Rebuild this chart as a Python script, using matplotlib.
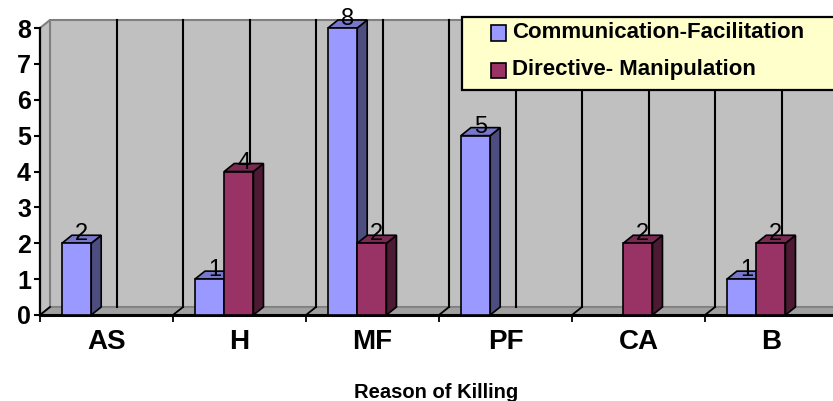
import matplotlib
matplotlib.use("Agg")
import matplotlib.pyplot as plt
from matplotlib.patches import Polygon, Rectangle

plt.rcParams['font.family'] = ['Liberation Sans', 'DejaVu Sans']

categories = ["AS", "H", "MF", "PF", "CA", "B"]
series_names = ["Communication-Facilitation", "Directive- Manipulation"]
comm_fac = [2, 1, 8, 5, 0, 1]
dir_man = [0, 4, 2, 0, 2, 2]
y_ticks = [0, 1, 2, 3, 4, 5, 6, 7, 8]
x_title = "Reason of Killing"

front_cols = ["#9999FF", "#993366"]
side_cols = ["#4D4D80", "#4D1A33"]
top_cols = ["#7777CC", "#7A2952"]

W, H = 833, 401
X0, Y0 = 40, 315          # pixel location of data origin
PX_X, PX_Y = 133.0, 35.875  # pixels per data unit
fig = plt.figure(figsize=(W / 100, H / 100), dpi=100)
ax = fig.add_axes([X0 / W, (H - Y0) / H, (W - X0) / W, Y0 / H])
XMAX = (W - X0) / PX_X
YMAX = Y0 / PX_Y
ax.set_xlim(0, XMAX)
ax.set_ylim(0, YMAX)

dx, dy = 10 / PX_X, 8 / PX_Y
ymax_wall = max(y_ticks)
ncat = len(categories)

# back wall
ax.add_patch(Rectangle((dx, dy), ncat + 1, ymax_wall, facecolor="#C0C0C0",
                       edgecolor="#808080", lw=1.5, zorder=0.2))
# left side wall
ax.add_patch(Polygon([(0, 0), (0, ymax_wall), (dx, ymax_wall + dy), (dx, dy)],
                     closed=True, facecolor="#C0C0C0", edgecolor="#808080",
                     lw=1.5, zorder=0.3, clip_on=False))
# floor
ax.add_patch(Polygon([(0, 0), (ncat + 1, 0), (ncat + 1 + dx, dy), (dx, dy)],
                     closed=True, facecolor="#A0A0A0", edgecolor="#808080",
                     lw=1.2, zorder=0.4))
# wall vertical gridlines
for k in range(1, 2 * ncat + 1):
    ax.plot([dx + 0.5 * k] * 2, [dy, ymax_wall + dy], color="black", lw=1.5, zorder=0.6)
# depth ticks on floor at category boundaries
for k in range(ncat + 1):
    ax.plot([k + dx, k, k], [dy, 0, -0.17], color="black", lw=1.3, zorder=2.6, clip_on=False)

# bars
bw, off = 0.22, 0.165
for s, vals in enumerate([comm_fac, dir_man]):
    for i, v in enumerate(vals):
        if v == 0:
            continue
        x0 = i + off + s * bw
        x1 = x0 + bw
        z = 3 + s
        ax.add_patch(Polygon([(x1, 0), (x1 + dx, dy), (x1 + dx, v + dy), (x1, v)], closed=True,
                             facecolor=side_cols[s], edgecolor="black", lw=1.2, zorder=z))
        ax.add_patch(Polygon([(x0, v), (x1, v), (x1 + dx, v + dy), (x0 + dx, v + dy)], closed=True,
                             facecolor=top_cols[s], edgecolor="black", lw=1.2, zorder=z))
        ax.add_patch(Rectangle((x0, 0), bw, v, facecolor=front_cols[s],
                               edgecolor="black", lw=1.2, zorder=z))
        ax.text(x0 + bw / 2 + dx / 2, v + 0.08, str(v), ha="center", va="baseline",
                fontsize=17, color="black", zorder=6)

# axes styling
for side in ["top", "right"]:
    ax.spines[side].set_visible(False)
ax.spines["left"].set_bounds(0, ymax_wall)
ax.spines["left"].set_linewidth(1.6)
ax.spines["bottom"].set_linewidth(2.2)
ax.spines["left"].set_zorder(2.7)
ax.spines["bottom"].set_zorder(2.7)
ax.set_yticks(y_ticks)
ax.set_yticklabels([str(t) for t in y_ticks], fontsize=18, fontweight="bold")
ax.tick_params(axis="y", length=4.5, width=1.5, pad=2)
ax.set_xticks([i + 0.5 for i in range(ncat)])
ax.set_xticklabels(categories, fontsize=20, fontweight="bold")
ax.tick_params(axis="x", length=0, pad=10)
ax.set_xlabel(x_title, fontsize=14.5, fontweight="bold", va="center")
ax.xaxis.set_label_coords(0.5, -(392 - Y0) / Y0)

# legend (drawn in pixel-converted coordinates)
def d(xp, yp):
    return ((xp - X0) / PX_X, (Y0 - yp) / PX_Y)

lx0, ly0 = d(462, 16.7)
lx1, ly1 = d(840, 90)
ax.add_patch(Rectangle((lx0, ly1), lx1 - lx0, ly0 - ly1, facecolor="#FFFFCC",
                       edgecolor="black", lw=1.6, zorder=10, clip_on=False))
for j, (name, yc) in enumerate(zip(series_names, [33, 70])):
    sx, sy = d(491, yc + 7.5)
    ax.add_patch(Rectangle((sx, sy), 15 / PX_X, 15 / PX_Y, facecolor=front_cols[j],
                           edgecolor="black", lw=1.2, zorder=11, clip_on=False))
    tx, ty = d(512, yc)
    ax.text(tx, ty, name, fontsize=16, fontweight="bold", ha="left", va="center",
            zorder=11, clip_on=False)

fig.savefig("out.png", dpi=100)
